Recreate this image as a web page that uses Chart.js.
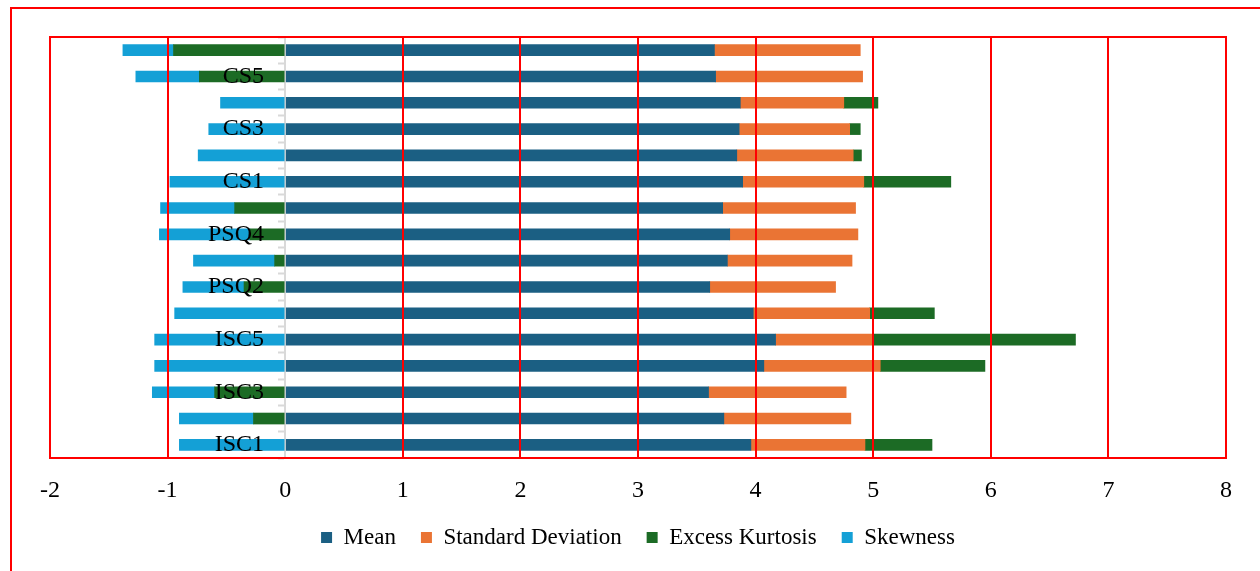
<!DOCTYPE html>
<html>
<head>
<meta charset="utf-8">
<title>Descriptive statistics by item</title>
<script src="https://cdn.jsdelivr.net/npm/chart.js@4.4.1/dist/chart.umd.min.js"></script>
<style>
  html, body { margin: 0; padding: 0; background: #ffffff; overflow: hidden; }
  #wrap { position: relative; width: 1260px; height: 571px; }
  #frame { position: absolute; left: 10px; top: 7px; width: 1400px; height: 700px; border: 2px solid #ff0000; box-sizing: border-box; }
  #c { position: absolute; left: 0; top: 0; }
</style>
</head>
<body>
<div id="wrap">
  <div id="frame"></div>
  <canvas id="c" width="1260" height="571"></canvas>
</div>
<script>
// Items, listed bottom to top
const items = ["ISC1","ISC2","ISC3","ISC4","ISC5",
               "PSQ1","PSQ2","PSQ3","PSQ4","PSQ5",
               "CS1","CS2","CS3","CS4","CS5","CS6"];

const mean     = [3.96, 3.73, 3.60, 4.07, 4.17, 3.98, 3.61, 3.76, 3.78, 3.72, 3.89, 3.84, 3.86, 3.87, 3.66, 3.65];
const stdDev   = [0.97, 1.08, 1.17, 0.99, 0.83, 0.99, 1.07, 1.06, 1.09, 1.13, 1.03, 0.99, 0.94, 0.88, 1.25, 1.24];
const kurtosis = [0.57, -0.27, -0.60, 0.89, 1.72, 0.55, -0.35, -0.09, -0.30, -0.43, 0.74, 0.07, 0.09, 0.29, -0.73, -0.95];
const skewness = [-0.90, -0.63, -0.53, -1.11, -1.11, -0.94, -0.52, -0.69, -0.77, -0.63, -0.98, -0.74, -0.65, -0.55, -0.54, -0.43];

const xTicks = [-2, -1, 0, 1, 2, 3, 4, 5, 6, 7, 8];

const serif = "'Liberation Serif', 'Times New Roman', serif";

// red frame around the plotting area
const plotFrame = {
  id: 'plotFrame',
  afterDraw(chart) {
    const a = chart.chartArea, ctx = chart.ctx;
    ctx.save();
    ctx.strokeStyle = '#ff0000';
    ctx.lineWidth = 2;
    ctx.strokeRect(a.left, a.top, a.right - a.left, a.bottom - a.top);
    ctx.restore();
  }
};

const barThickness = 11;

new Chart(document.getElementById('c'), {
  type: 'bar',
  data: {
    labels: items,
    datasets: [
      { label: 'Mean', data: mean, backgroundColor: '#1B5F83', barThickness },
      { label: 'Standard Deviation', data: stdDev, backgroundColor: '#EA7434', barThickness },
      { label: 'Excess Kurtosis', data: kurtosis, backgroundColor: '#1C6B25', barThickness },
      { label: 'Skewness', data: skewness, backgroundColor: '#14A0D6', barThickness }
    ]
  },
  options: {
    indexAxis: 'y',
    responsive: false,
    animation: false,
    layout: { padding: { left: 50, right: 34, top: 37, bottom: 12 } },
    scales: {
      x: {
        stacked: true,
        min: -2,
        max: 8,
        afterBuildTicks(scale) { scale.ticks = xTicks.map(v => ({ value: v })); },
        afterFit(scale) { scale.height = 43; },
        grid: {
          z: 1,
          color: c => (c.tick && c.tick.value === 0) ? 'rgba(0,0,0,0)' : '#ff0000',
          lineWidth: 2,
          drawTicks: false
        },
        border: { display: true, color: '#ff0000', width: 2, z: 1 },
        ticks: {
          padding: 18,
          color: '#000000',
          font: { family: serif, size: 24 }
        }
      },
      // category axis crossing at zero: gray line and tick marks
      y: {
        stacked: true,
        reverse: true,
        position: { x: 0 },
        grid: {
          display: true,
          offset: true,
          drawOnChartArea: false,
          drawTicks: true,
          tickLength: 6,
          tickWidth: 2,
          tickColor: '#d9d9d9'
        },
        border: { display: true, color: '#d9d9d9', width: 2 },
        ticks: { display: false }
      },
      // item names, drawn in front of the bars just left of zero
      yNames: {
        type: 'category',
        axis: 'y',
        reverse: true,
        offset: true,
        position: { x: -0.18 },
        grid: { display: false },
        border: { display: false },
        ticks: {
          z: 2,
          autoSkip: false,
          color: '#000000',
          font: { family: serif, size: 24 },
          callback(value, index) { return index % 2 === 0 ? items[index] : ''; }
        }
      }
    },
    plugins: {
      legend: {
        position: 'bottom',
        labels: {
          boxWidth: 11,
          boxHeight: 11,
          padding: 25,
          color: '#000000',
          font: { family: serif, size: 23 }
        }
      },
      tooltip: { enabled: false }
    }
  },
  plugins: [plotFrame]
});
</script>
</body>
</html>
